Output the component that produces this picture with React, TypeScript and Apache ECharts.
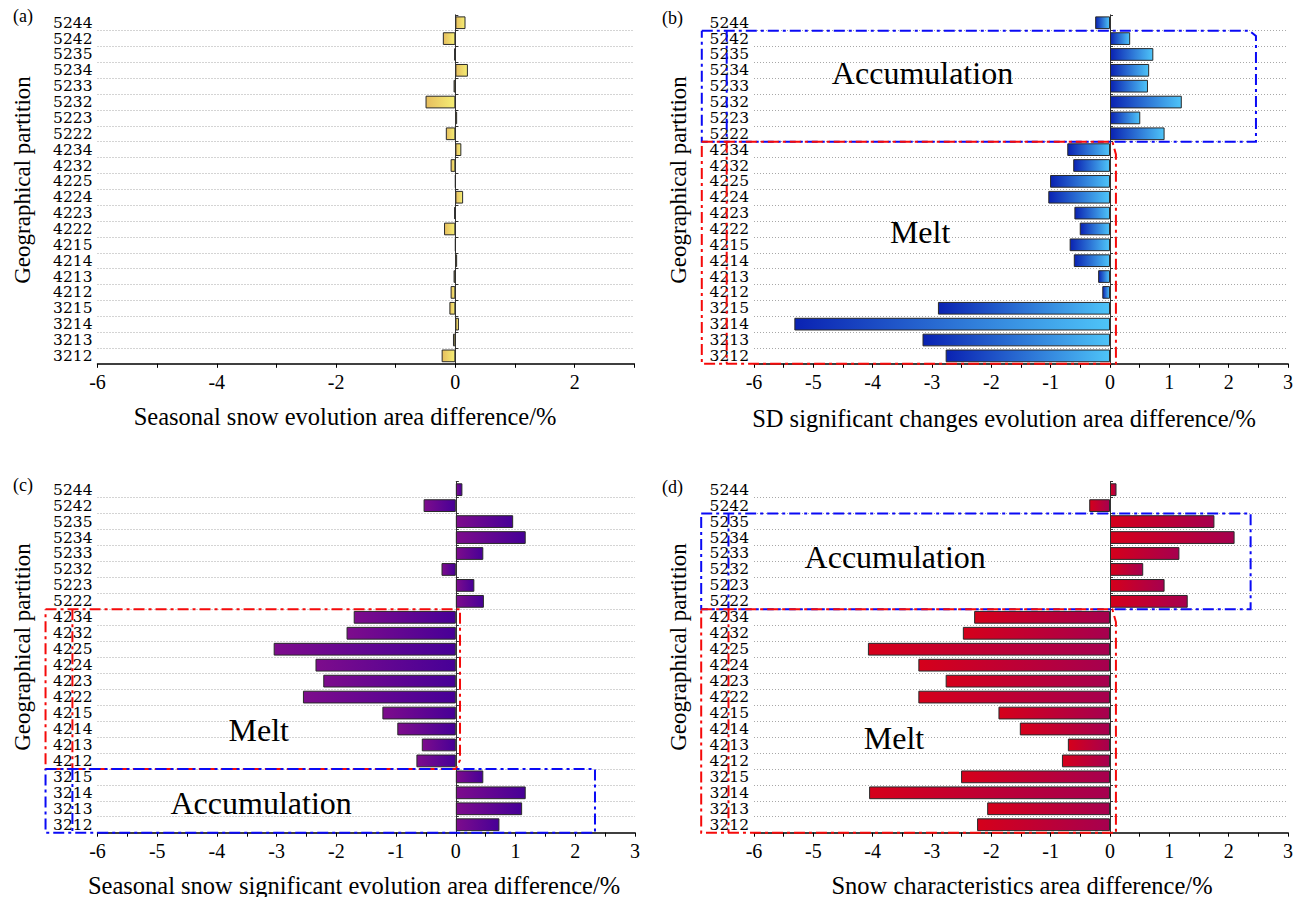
import React, { useEffect, useRef } from "react";
import * as echarts from "echarts";

// ---------------- data ----------------
const categories = [
  "5244", "5242", "5235", "5234", "5233", "5232", "5223", "5222",
  "4234", "4232", "4225", "4224", "4223", "4222", "4215", "4214",
  "4213", "4212", "3215", "3214", "3213", "3212",
];

const seasonalSnowDiff = [
  0.17, -0.21, -0.02, 0.21, -0.03, -0.5, 0.03, -0.16, 0.1, -0.08, 0, 0.13,
  -0.02, -0.19, 0, 0.03, -0.03, -0.08, -0.1, 0.06, -0.04, -0.23,
];

const sdSignificantDiff = [
  -0.25, 0.34, 0.73, 0.66, 0.64, 1.21, 0.51, 0.92, -0.72, -0.62, -1.01, -1.04,
  -0.6, -0.51, -0.68, -0.61, -0.2, -0.13, -2.9, -5.32, -3.16, -2.77,
];

const seasonalSignificantDiff = [
  0.11, -0.54, 0.96, 1.17, 0.46, -0.24, 0.31, 0.47, -1.71, -1.83, -3.05, -2.35,
  -2.22, -2.56, -1.23, -0.98, -0.57, -0.66, 0.46, 1.17, 1.11, 0.73,
];

const snowCharacteristicsDiff = [
  0.11, -0.35, 1.76, 2.1, 1.17, 0.56, 0.92, 1.31, -2.29, -2.48, -4.08, -3.23,
  -2.77, -3.23, -1.88, -1.52, -0.71, -0.81, -2.51, -4.06, -2.07, -2.24,
];

const panelLetters = ["(a)", "(b)", "(c)", "(d)"];
const xAxisTitles = [
  "Seasonal snow evolution area difference/%",
  "SD significant changes evolution area difference/%",
  "Seasonal snow significant evolution area difference/%",
  "Snow characteristics area difference/%",
];
const yAxisTitle = "Geographical partition";
const xMin = -6;
const xMax = 3;

// ---------------- layout / styles ----------------
const FONT = "'Liberation Serif', 'Times New Roman', Times, serif";
const LABEL_FONT = "'DejaVu Serif', serif";
const grids = [
  { left: 97.5, top: 14.8, width: 536.8, height: 349 },
  { left: 754, top: 14.8, width: 534, height: 349 },
  { left: 97.5, top: 481.7, width: 537.5, height: 351 },
  { left: 754, top: 481.7, width: 534, height: 351 },
];
const gradients = [
  ["#E6BD5E", "#F5EE74"],
  ["#0A22B2", "#4EC4F8"],
  ["#7D0C8C", "#470097"],
  ["#D5001B", "#A6004F"],
];
const panelData = [seasonalSnowDiff, sdSignificantDiff, seasonalSignificantDiff, snowCharacteristicsDiff];
const letterPos = [[13, 16], [662, 18], [13, 485], [662, 487]];
const yTitlePos = [[22, 180], [678, 180], [22, 647], [678, 647]];
const xTitlePos = [[345, 416], [1004, 418], [354, 885], [1022, 885]];

// annotation boxes in data coordinates [x value, category index]
const BLUE = "#0A0AF5";
const RED = "#F50A0A";
const boxes = [
  { g: 1, color: BLUE, pts: [[-6.88, 0.5], [2.35, 0.5], [2.46, 0.84], [2.46, 7.5], [-6.88, 7.5], [-6.88, 0.5]], inner: [-6.46, 0.5, 7.5] },
  { g: 1, color: RED, pts: [[-6.88, 7.5], [0.04, 7.5], [0.1, 8.3], [0.1, 21.5], [-6.88, 21.5], [-6.88, 7.5]], inner: [-6.46, 7.5, 21.5] },
  { g: 2, color: RED, pts: [[-6.87, 7.5], [0.07, 7.5], [0.07, 16.95], [0.0, 17.5], [-6.87, 17.5], [-6.87, 7.5]], inner: [-6.42, 7.5, 17.5] },
  { g: 2, color: BLUE, pts: [[-6.87, 17.5], [2.33, 17.5], [2.33, 21.5], [-6.87, 21.5], [-6.87, 17.5]], inner: [-6.42, 17.5, 21.5] },
  { g: 3, color: BLUE, pts: [[-6.89, 1.5], [2.37, 1.5], [2.37, 7.5], [-6.89, 7.5], [-6.89, 1.5]], inner: [-6.43, 1.5, 7.5] },
  { g: 3, color: RED, pts: [[-6.89, 7.5], [0.04, 7.5], [0.1, 8.3], [0.1, 21.5], [-6.89, 21.5], [-6.89, 7.5]], inner: [-6.43, 7.5, 21.5] },
];
const notes = [
  { g: 1, text: "Accumulation", at: [-3.16, 3.17] },
  { g: 1, text: "Melt", at: [-3.2, 13.2] },
  { g: 2, text: "Melt", at: [-3.3, 15.07] },
  { g: 2, text: "Accumulation", at: [-3.26, 19.65] },
  { g: 3, text: "Accumulation", at: [-3.62, 4.24] },
  { g: 3, text: "Melt", at: [-3.64, 15.54] },
];

export default function App() {
  const ref = useRef<HTMLDivElement>(null);

  useEffect(() => {
    if (!ref.current) return;
    const chart = echarts.init(ref.current, null, { renderer: "svg", width: 1304, height: 897 });

    const xAxis: any[] = [];
    const yAxis: any[] = [];
    const series: any[] = [];
    grids.forEach((_, g) => {
      const isA = g === 0;
      xAxis.push({
        type: "value",
        gridIndex: g,
        min: xMin,
        max: xMax,
        interval: 1,
        axisLine: { show: true, onZero: false, lineStyle: { color: "#000", width: 1.5 } },
        axisTick: { show: true, length: 4, lineStyle: { color: "#000", width: 1 } },
        minorTick: { show: !isA, splitNumber: 2, length: 4, lineStyle: { color: "#000", width: 1 } },
        splitLine: { show: false },
        axisLabel: {
          fontSize: 20,
          color: "#000",
          fontFamily: FONT,
          margin: 8,
          formatter: (v: number) => (isA ? (v % 2 === 0 && v < 3 ? String(v) : "") : String(v)),
        },
      });
      yAxis.push({
        type: "category",
        gridIndex: g,
        data: categories,
        inverse: true,
        axisLine: { show: false, onZero: false },
        axisTick: { show: false },
        axisLabel: { interval: 0, fontSize: 15.5, lineHeight: 15, color: "#000", fontFamily: LABEL_FONT, margin: 5 },
        splitLine: {
          show: true,
          showMinLine: false,
          showMaxLine: false,
          lineStyle: { type: [1, 2], color: "#a8a8a8", width: 1 },
        },
      });
      yAxis.push({
        type: "category",
        gridIndex: g,
        data: categories,
        inverse: true,
        position: "left",
        axisLine: { show: true, onZero: true, lineStyle: { color: "#333", width: 1 } },
        axisTick: { show: true, inside: true, length: 3, interval: 0, lineStyle: { color: "#333" } },
        axisLabel: { show: false },
        splitLine: { show: false },
      });
      series.push({
        type: "bar",
        xAxisIndex: g,
        yAxisIndex: 2 * g,
        data: panelData[g],
        barCategoryGap: "20%",
        itemStyle: {
          color: new echarts.graphic.LinearGradient(0, 0, 1, 0, [
            { offset: 0, color: gradients[g][0] },
            { offset: 1, color: gradients[g][1] },
          ]),
          borderColor: "#2a2a2a",
          borderWidth: 1,
        },
      });
    });

    chart.setOption({
      animation: false,
      backgroundColor: "#fff",
      textStyle: { fontFamily: FONT },
      grid: grids.map((gr) => ({ ...gr, containLabel: false })),
      xAxis,
      yAxis,
      series,
    });

    const toPx = (g: number, x: number, idx: number) => {
      const p0 = chart.convertToPixel({ gridIndex: g }, [x, 0]) as number[];
      const p1 = chart.convertToPixel({ gridIndex: g }, [x, 1]) as number[];
      return [p0[0], p0[1] + idx * (p1[1] - p0[1])];
    };

    const graphics: any[] = [];
    panelLetters.forEach((t, g) => {
      graphics.push({
        type: "text",
        x: letterPos[g][0],
        y: letterPos[g][1],
        style: { text: t, fontSize: 18, fontFamily: FONT, fill: "#000", textAlign: "left", textVerticalAlign: "middle" },
      });
      graphics.push({
        type: "text",
        x: yTitlePos[g][0],
        y: yTitlePos[g][1],
        rotation: Math.PI / 2,
        style: { text: yAxisTitle, fontSize: 23, fontFamily: FONT, fill: "#000", textAlign: "center", textVerticalAlign: "middle" },
      });
      graphics.push({
        type: "text",
        x: xTitlePos[g][0],
        y: xTitlePos[g][1],
        style: { text: xAxisTitles[g], fontSize: 24.5, fontFamily: FONT, fill: "#000", textAlign: "center", textVerticalAlign: "middle" },
      });
    });
    boxes.forEach((b) => {
      graphics.push({
        type: "polyline",
        z: 100,
        shape: { points: b.pts.map((p) => toPx(b.g, p[0], p[1])) },
        style: { stroke: b.color, lineWidth: 2, lineDash: [11, 4, 3, 4], fill: null },
      });
      graphics.push({
        type: "polyline",
        z: 100,
        shape: { points: [toPx(b.g, b.inner[0], b.inner[1]), toPx(b.g, b.inner[0], b.inner[2])] },
        style: { stroke: b.color, lineWidth: 2, lineDash: [11, 4, 3, 4], fill: null },
      });
    });
    notes.forEach((n) => {
      const p = toPx(n.g, n.at[0], n.at[1]);
      graphics.push({
        type: "text",
        z: 101,
        x: p[0],
        y: p[1],
        style: { text: n.text, fontSize: 32, fontFamily: FONT, fill: "#000", textAlign: "center", textVerticalAlign: "middle" },
      });
    });
    chart.setOption({ graphic: graphics });

    return () => chart.dispose();
  }, []);

  return (
    <div
      ref={ref}
      style={{ position: "fixed", left: 0, top: 0, width: 1304, height: 897, background: "#fff" }}
    />
  );
}
